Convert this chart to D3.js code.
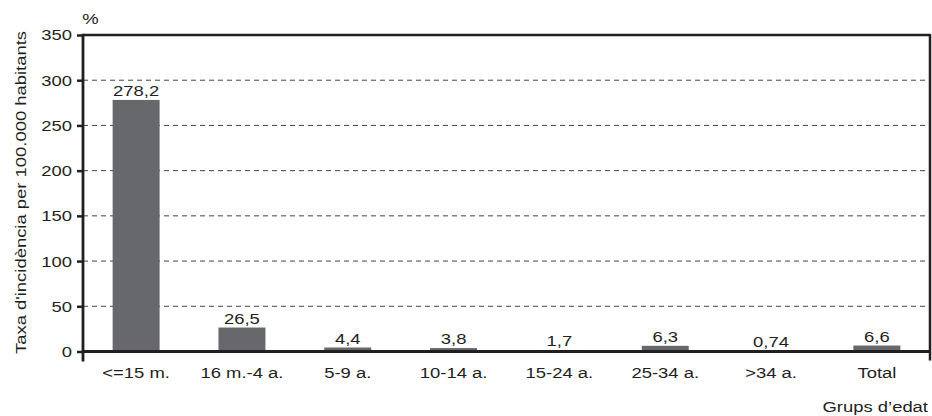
<!DOCTYPE html>
<html>
<head>
<meta charset="utf-8">
<script src="https://cdn.jsdelivr.net/npm/d3@7"></script>
<style>
  html, body { margin: 0; padding: 0; background: #fff; }
  svg { display: block; font-family: "Liberation Sans", Arial, Helvetica, sans-serif; }
</style>
</head>
<body>
<svg id="chart" width="932" height="416"></svg>
<script>
// Incidence rate per 100,000 inhabitants by age group
const categories = ["<=15 m.", "16 m.-4 a.", "5-9 a.", "10-14 a.", "15-24 a.", "25-34 a.", ">34 a.", "Total"];
const values = [278.2, 26.5, 4.4, 3.8, 1.7, 6.3, 0.74, 6.6];
const valueLabels = ["278,2", "26,5", "4,4", "3,8", "1,7", "6,3", "0,74", "6,6"];
const yTicks = [0, 50, 100, 150, 200, 250, 300, 350];

const ink = "#231f20";
const barFill = "#67686c";
const fontSize = 15.5;
const widen = 1.19;   // the typeface is set slightly expanded

const svg = d3.select("#chart");
const plotLeft = 83, plotRight = 930, plotTop = 35, plotBottom = 351.5;

const x = d3.scaleBand().domain(categories).range([plotLeft, plotRight]).paddingInner(0.556).paddingOuter(0.28);
const y = d3.scaleLinear().domain([0, 350]).range([plotBottom, plotTop]);

// move a text's x/y into a transform so it can be widened about its anchor
function expand(sel) {
  sel.each(function () {
    const t = d3.select(this);
    const tx = +t.attr("x") || 0, ty = +t.attr("y") || 0;
    t.attr("x", 0).attr("y", 0)
     .attr("transform", `translate(${tx},${ty}) scale(${widen},1)`);
  });
}

// dashed gridlines
svg.append("g").selectAll("line")
  .data(yTicks.filter(t => t > 0 && t < 350))
  .join("line")
  .attr("x1", plotLeft).attr("x2", plotRight)
  .attr("y1", d => y(d)).attr("y2", d => y(d))
  .attr("stroke", "#444").attr("stroke-width", 1)
  .attr("stroke-dasharray", "5,4");

// bars
svg.append("g").selectAll("rect")
  .data(values)
  .join("rect")
  .attr("x", (d, i) => x(categories[i]))
  .attr("width", x.bandwidth())
  .attr("y", d => y(d))
  .attr("height", d => y(0) - y(d) + 1)
  .attr("fill", barFill);

// value labels
svg.append("g").selectAll("text")
  .data(values)
  .join("text")
  .attr("x", (d, i) => x(categories[i]) + x.bandwidth() / 2)
  .attr("y", d => y(d) - 4)
  .attr("text-anchor", "middle")
  .attr("font-size", fontSize)
  .attr("fill", ink)
  .text((d, i) => valueLabels[i])
  .call(expand);

// frame: top and right lines
svg.append("line").attr("x1", plotLeft).attr("x2", plotRight).attr("y1", plotTop).attr("y2", plotTop)
  .attr("stroke", ink).attr("stroke-width", 2.7);
svg.append("line").attr("x1", plotRight).attr("x2", plotRight).attr("y1", plotTop - 1).attr("y2", plotBottom + 9)
  .attr("stroke", ink).attr("stroke-width", 2.5);

// y axis
const yAxis = svg.append("g").attr("transform", `translate(${plotLeft},0)`)
  .call(d3.axisLeft(y).tickValues(yTicks).tickSize(6).tickPadding(5).tickFormat(d3.format("d")));
yAxis.select(".domain").remove();
yAxis.selectAll(".tick line").attr("stroke", ink).attr("stroke-width", 2.5);
yAxis.selectAll(".tick text").attr("font-size", fontSize).attr("fill", ink)
  .attr("font-family", "Liberation Sans, Arial, sans-serif")
  .call(expand);
svg.append("line").attr("x1", plotLeft).attr("x2", plotLeft).attr("y1", plotTop - 1.3).attr("y2", plotBottom + 10)
  .attr("stroke", ink).attr("stroke-width", 2.8);

// x axis baseline and labels
svg.append("line").attr("x1", plotLeft).attr("x2", plotRight).attr("y1", plotBottom).attr("y2", plotBottom)
  .attr("stroke", ink).attr("stroke-width", 2.8);
const xAxis = svg.append("g").attr("transform", `translate(0,${plotBottom})`)
  .call(d3.axisBottom(x).tickSize(0).tickPadding(15));
xAxis.select(".domain").remove();
xAxis.selectAll(".tick text").attr("font-size", fontSize).attr("fill", ink)
  .attr("font-family", "Liberation Sans, Arial, sans-serif")
  .call(expand);

// titles
svg.append("text").attr("x", 90.5).attr("y", 23.5).attr("text-anchor", "middle")
  .attr("font-size", fontSize).attr("fill", ink).text("%").call(expand);
svg.append("text")
  .attr("transform", `translate(25.5,192.5) rotate(-90) scale(${widen},1)`)
  .attr("text-anchor", "middle").attr("font-size", fontSize).attr("fill", ink)
  .text("Taxa d'incidència per 100.000 habitants");
svg.append("text").attr("x", 928).attr("y", 412).attr("text-anchor", "end")
  .attr("font-size", fontSize).attr("fill", ink).text("Grups d\u2019edat").call(expand);
</script>
</body>
</html>
